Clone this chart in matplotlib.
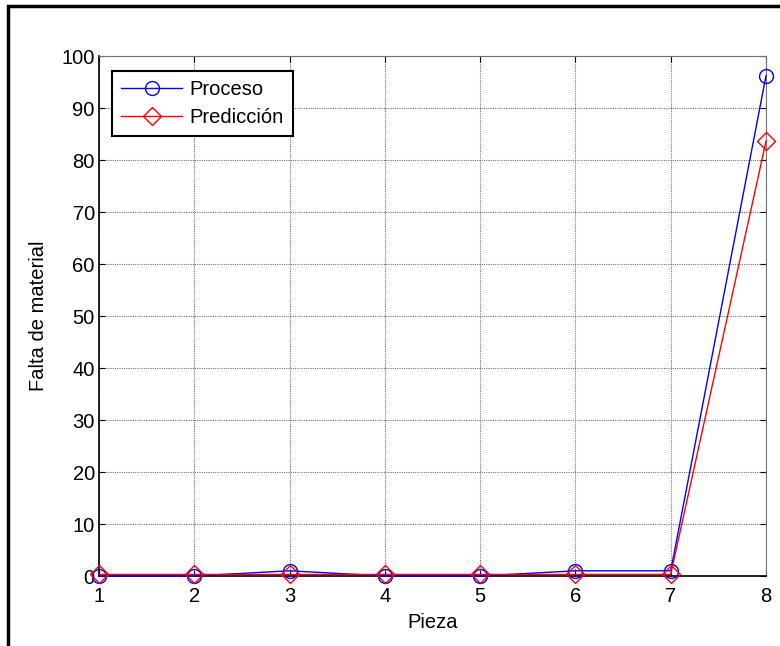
import matplotlib
matplotlib.use("Agg")
import matplotlib.pyplot as plt
from matplotlib.patches import Rectangle

plt.rcParams.update({
    "font.family": ["Liberation Sans", "DejaVu Sans"],
    "font.size": 14.5,
})

pieza = [1, 2, 3, 4, 5, 6, 7, 8]
proceso = [0, 0, 1, 0, 0, 1, 1, 96.2]
prediccion = [0.3, 0.3, 0.3, 0.3, 0.3, 0.3, 0.3, 83.6]

fig = plt.figure(figsize=(7.8, 6.46), dpi=100)
ax = fig.add_axes([99 / 780, 1 - 576 / 646, (766 - 99) / 780, (576 - 56) / 646])

# outer frame of the figure (only left and top edges fall inside the canvas)
fig.patches.append(Rectangle((8 / 780, -0.1), 1.2, 1.1 - 6 / 646, transform=fig.transFigure,
                             fill=False, edgecolor="black", linewidth=2.5, clip_on=False))

ax.plot(pieza, proceso, color="blue", lw=1, marker="o", ms=10,
        mfc="none", mec="blue", label="Proceso", clip_on=False, zorder=3)
ax.plot(pieza, prediccion, color="red", lw=1, marker="D", ms=9,
        mfc="none", mec="red", label="Predicción", clip_on=False, zorder=3)

ax.set_xlim(1, 8)
ax.set_ylim(0, 100)
ax.set_xticks(range(1, 9))
ax.set_yticks(range(0, 101, 10))
ax.grid(True, color="0.45", linestyle=(0, (1, 1)), linewidth=0.8)
ax.tick_params(direction="in", length=4, top=True, right=True, pad=3)
ax.tick_params(axis="x", pad=8)

for side in ("left", "bottom"):
    ax.spines[side].set_linewidth(1.2)
for side in ("top", "right"):
    ax.spines[side].set_color("0.45")
    ax.spines[side].set_linestyle((0, (1, 1)))
    ax.spines[side].set_linewidth(0.8)

ax.set_xlabel("Pieza", labelpad=5)
ax.set_ylabel("Falta de material", labelpad=10)

leg = ax.legend(loc="upper left", bbox_to_anchor=(0.0195, 0.971), fancybox=False,
                framealpha=1, edgecolor="black", handlelength=3.05,
                borderpad=0.45, labelspacing=0.45, handletextpad=0.35,
                borderaxespad=0)
leg.get_frame().set_linewidth(1.5)

fig.savefig("out.png", dpi=100)
